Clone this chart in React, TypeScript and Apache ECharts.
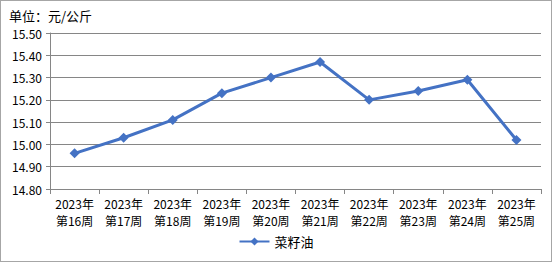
import React, { useEffect, useRef } from "react";
import * as echarts from "echarts";

const categories = [
  "2023年\n第16周", "2023年\n第17周", "2023年\n第18周", "2023年\n第19周", "2023年\n第20周",
  "2023年\n第21周", "2023年\n第22周", "2023年\n第23周", "2023年\n第24周", "2023年\n第25周",
];
const seriesName = "菜籽油";
const values = [14.96, 15.03, 15.11, 15.23, 15.30, 15.37, 15.20, 15.24, 15.29, 15.02];
const yMin = 14.8;
const yMax = 15.5;
const yInterval = 0.1;
const unitTitle = "单位：元/公斤";

export default function App() {
  const ref = useRef<HTMLDivElement>(null);
  useEffect(() => {
    document.body.style.margin = "0";
    const chart = echarts.init(ref.current!, null, { renderer: "svg" });
    const font = "'SimSun', 'Noto Sans CJK SC', sans-serif";
    chart.setOption({
      animation: false,
      backgroundColor: "#ffffff",
      title: {
        text: unitTitle,
        left: 8,
        top: 8,
        padding: 0,
        textStyle: { fontSize: 13, fontWeight: "normal", color: "#000", fontFamily: font },
      },
      grid: { left: 49, right: 10, top: 32, bottom: 72 },
      legend: {
        bottom: 8,
        left: "center",
        itemWidth: 30,
        itemHeight: 10,
        textStyle: { fontSize: 13, color: "#000", fontFamily: font },
        data: [seriesName],
      },
      xAxis: {
        type: "category",
        data: categories,
        boundaryGap: true,
        axisLine: { lineStyle: { color: "#868686", width: 1 } },
        axisTick: { show: true, length: 5, lineStyle: { color: "#868686" } },
        axisLabel: { fontSize: 12, color: "#000", fontFamily: font, lineHeight: 17, margin: 6, interval: 0 },
      },
      yAxis: {
        type: "value",
        min: yMin,
        max: yMax,
        interval: yInterval,
        axisLine: { show: true, lineStyle: { color: "#868686", width: 1 } },
        axisTick: { show: true, length: 4, lineStyle: { color: "#868686" } },
        splitLine: { lineStyle: { color: "#868686", width: 1 } },
        axisLabel: {
          fontSize: 12,
          color: "#000",
          fontFamily: font,
          margin: 8,
          formatter: (v: number) => v.toFixed(2),
        },
      },
      series: [
        {
          name: seriesName,
          type: "line",
          data: values,
          symbol: "diamond",
          symbolSize: 10,
          itemStyle: { color: "#4472C4" },
          lineStyle: { color: "#4472C4", width: 3 },
        },
      ],
    });
    return () => chart.dispose();
  }, []);
  return (
    <div
      ref={ref}
      style={{ width: 552, height: 262, boxSizing: "border-box", border: "1px solid #a6a6a6" }}
    />
  );
}
